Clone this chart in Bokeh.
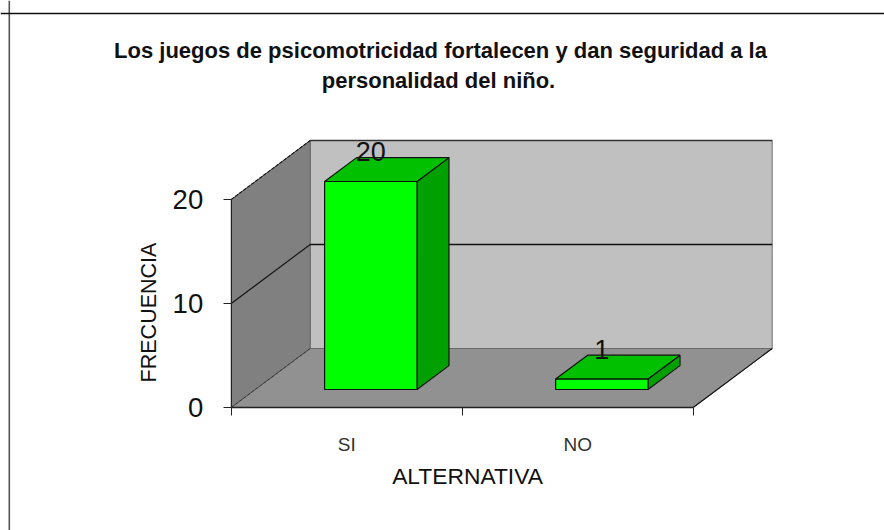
from bokeh.embed import file_html
from bokeh.resources import INLINE
from bokeh.plotting import figure
from bokeh.models import LinearAxis, FixedTicker, Range1d, Span, Label
from bokeh.core.properties import value

# ---- chart data ----
categories = ["SI", "NO"]
frecuencia = [20, 1]
y_ticks = [0, 10, 20]
title_lines = ["Los juegos de psicomotricidad fortalecen y dan seguridad a la",
               "personalidad del niño."]
y_label = "FRECUENCIA"
x_label = "ALTERNATIVA"

# ---- layout (pixels from the top-left of the picture) ----
W, H = 884, 530
X0, Y0 = 230.7, 407.0           # origin of the front plane
PX_CAT = 231.0                  # pixels per category
PX_UNIT = 10.4                  # pixels per value unit
DEPTH_PX = (79.0, 59.0)         # offset of the back plane
ymax = y_ticks[-1]
ncat = len(categories)
dx = DEPTH_PX[0] / PX_CAT       # depth shift in data units
dy = DEPTH_PX[1] / PX_UNIT
Z0, Z1 = 0.305, 0.71            # bar depth span
BAR_L, BAR_R = 0.3, 0.7         # bar span inside a category

def sx(px): return (px - X0) / PX_CAT
def sy(py): return (Y0 - py) / PX_UNIT
def P(x, y, z): return (x + z * dx, y + z * dy)

p = figure(width=W, height=H, output_backend="svg", toolbar_location=None,
           x_range=Range1d(sx(0), sx(W)), y_range=Range1d(sy(H), sy(0)),
           x_axis_location=None, y_axis_location=None,
           min_border=0, min_border_left=0, min_border_right=0,
           min_border_top=0, min_border_bottom=0, outline_line_color=None,
           background_fill_color="white", border_fill_color="white")
p.grid.visible = False

# picture frame (left and top rule only)
p.add_layout(Span(location=sx(8.8), dimension="height", line_color="#555555", line_width=1.6))
p.add_layout(Span(location=sy(13.0), dimension="width", line_color="#111111", line_width=1.4))

def poly(pts, fill, line=None, lw=1.0):
    xs, ys = zip(*pts)
    p.patch(list(xs), list(ys), fill_color=fill, line_color=line, line_width=lw)

def seg(pts, color, lw=1.0, dash="solid"):
    xs, ys = zip(*pts)
    p.line(list(xs), list(ys), line_color=color, line_width=lw, line_dash=dash)

# walls and floor
poly([P(0, 0, 1), P(ncat, 0, 1), P(ncat, ymax, 1), P(0, ymax, 1)], "#C0C0C0", "#808080", 1.2)
poly([P(0, 0, 0), P(0, 0, 1), P(0, ymax, 1), P(0, ymax, 0)], "#808080", "#666666", 1.0)
poly([P(0, 0, 0), P(ncat, 0, 0), P(ncat, 0, 1), P(0, 0, 1)], "#919191", "#6A6A6A", 1.0)

# gridlines
for t in y_ticks[1:]:
    seg([P(0, t, 1), P(ncat, t, 1)], "#111111" if t < ymax else "#333333", 1.3)
    seg([P(0, t, 0), P(0, t, 1)], "#111111", 1.1, "solid" if t < ymax else "4 1")
seg([P(0, 0, 0), P(0, 0, 1)], "#333333", 1.0, "4 1")
seg([P(ncat, 0, 0), P(ncat, 0, 1)], "#111111", 1.2)

# bars
for i, v in enumerate(frecuencia):
    l, r = i + BAR_L, i + BAR_R
    poly([P(r, 0, Z0), P(r, 0, Z1), P(r, v, Z1), P(r, v, Z0)], "#00A000", "#111111", 1.2)
    poly([P(l, v, Z0), P(r, v, Z0), P(r, v, Z1), P(l, v, Z1)], "#00C000", "#111111", 1.2)
    poly([P(l, 0, Z0), P(r, 0, Z0), P(r, v, Z0), P(l, v, Z0)], "#00FF00", "#111111", 1.2)

# value labels
lab_x, lab_y = zip(*[P(i + 0.5, v, Z0) for i, v in enumerate(frecuencia)])
p.text(list(lab_x), list(lab_y), text=[str(v) for v in frecuencia],
       text_font=value("Liberation Sans"), text_font_size=value("27px"),
       text_color="#111111", text_align="center", text_baseline="alphabetic",
       y_offset=-30)

# axes
yax = LinearAxis(fixed_location=0, ticker=FixedTicker(ticks=y_ticks), bounds=(0, ymax))
yax.axis_line_color = "#222222"
yax.major_tick_line_color = "#222222"
yax.major_tick_in = 0
yax.major_tick_out = 8
yax.minor_tick_line_color = None
yax.major_label_standoff = 20
yax.major_label_text_font = "Liberation Sans"
yax.major_label_text_font_size = "27.5px"
yax.major_label_text_color = "#111111"
p.add_layout(yax, "left")

xax = LinearAxis(fixed_location=0, ticker=FixedTicker(ticks=list(range(ncat + 1))), bounds=(0, ncat))
xax.axis_line_color = "#222222"
xax.axis_line_width = 1.3
xax.major_tick_line_color = "#222222"
xax.major_tick_in = 0
xax.major_tick_out = 8
xax.minor_tick_line_color = None
xax.major_label_text_color = None
xax.major_label_text_font_size = "1px"
p.add_layout(xax, "below")

cat_pos = [i + 0.5 for i in range(ncat)]
xcat = LinearAxis(fixed_location=0, ticker=FixedTicker(ticks=cat_pos),
                  major_label_overrides={c: n for c, n in zip(cat_pos, categories)})
xcat.axis_line_color = None
xcat.major_tick_line_color = None
xcat.minor_tick_line_color = None
xcat.major_tick_out = 0
xcat.major_tick_in = 0
xcat.major_label_standoff = 26
xcat.major_label_text_font = "Liberation Sans"
xcat.major_label_text_font_size = "19px"
xcat.major_label_text_color = "#333333"
p.add_layout(xcat, "below")

# title and axis titles
for txt, cx, base in zip(title_lines, (440, 438), (50, 80)):
    p.add_layout(Label(x=sx(cx), y=sy(base), text=txt, text_font="Liberation Sans",
                       text_font_style="bold", text_font_size="22px", text_color="#111111",
                       text_align="center", text_baseline="alphabetic"))
p.add_layout(Label(x=sx(467), y=sy(475), text=x_label, text_font="Liberation Sans",
                   text_font_size="22.8px", text_color="#111111",
                   text_align="center", text_baseline="alphabetic"))
p.add_layout(Label(x=sx(148), y=sy(312), text=y_label, text_font="Liberation Sans", angle=90,
                   angle_units="deg", text_font_size="21.5px", text_color="#111111",
                   text_align="center", text_baseline="alphabetic"))

open("out.html", "w").write(file_html(p, INLINE))
